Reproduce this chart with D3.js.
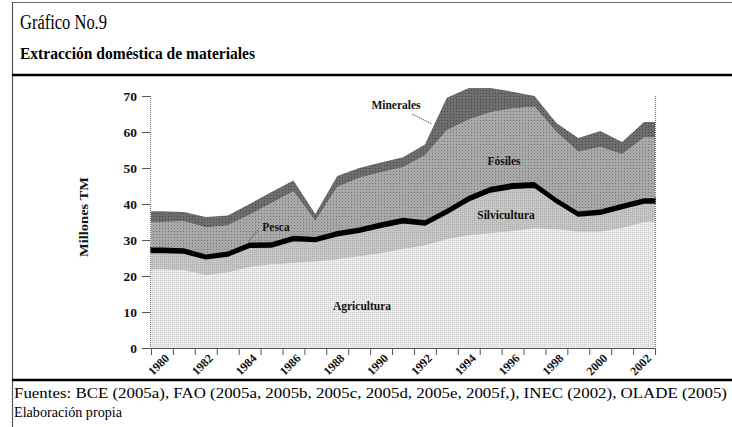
<!DOCTYPE html>
<meta charset="utf-8">
<style>
body { margin: 0; background: #fff; }
svg { display: block; }
text { font-family: "Liberation Serif", "DejaVu Serif", serif; }
.lbl { font-weight: bold; font-size: 11.5px; fill: #111; }
.tick-lbl { font-weight: bold; font-size: 12px; fill: #111; }
</style>
<svg width="732" height="427"></svg>
<script src="https://cdnjs.cloudflare.com/ajax/libs/d3/7.8.5/d3.min.js"></script>
<script>
// data (millones TM)
var years = d3.range(1980, 2003);
var agricultura  = [21.8,21.6,20.2,21.0,22.5,23.2,23.6,24.0,24.6,25.5,26.3,27.5,28.5,30.2,31.3,31.9,32.5,33.2,33.0,32.3,32.3,33.3,34.9];
var silvicultura = [4.8,4.8,4.6,4.6,5.5,4.9,6.3,5.6,6.6,6.7,7.3,7.3,5.7,7.2,9.6,11.5,11.9,11.5,7.4,4.4,4.9,5.5,5.4];
var pesca        = [1.3,1.3,1.2,1.2,1.3,1.3,1.3,1.2,1.3,1.3,1.3,1.4,1.3,1.3,1.4,1.4,1.4,1.4,1.3,1.2,1.3,1.3,1.3];
var fosiles      = [7.1,7.5,7.5,7.2,7.7,10.9,12.3,4.5,12.2,13.7,13.9,14.0,18.0,21.8,21.2,20.7,20.7,20.9,18.3,16.6,17.3,13.7,16.9];
var minerales    = [3.0,2.6,2.9,2.8,3.0,3.0,3.0,1.9,3.1,2.8,2.7,2.8,3.0,9.0,8.7,6.7,4.7,3.0,2.5,3.8,4.5,3.4,4.3];
var yTicks = [0,10,20,30,40,50,60,70];

var keys = ["agricultura","silvicultura","pesca","fosiles","minerales"];
var rows = years.map(function(y, i) {
  return {year: y, agricultura: agricultura[i], silvicultura: silvicultura[i],
          pesca: pesca[i], fosiles: fosiles[i], minerales: minerales[i]};
});

var svg = d3.select("svg");

// frame
svg.append("line").attr("x1",12).attr("x2",732).attr("y1",2.5).attr("y2",2.5).attr("stroke","#666").attr("stroke-width",1);
svg.append("line").attr("x1",12.5).attr("x2",12.5).attr("y1",2).attr("y2",427).attr("stroke","#555").attr("stroke-width",1.2);
svg.append("line").attr("x1",12).attr("x2",732).attr("y1",75).attr("y2",75).attr("stroke","#000").attr("stroke-width",2.5);
svg.append("line").attr("x1",12).attr("x2",732).attr("y1",380).attr("y2",380).attr("stroke","#000").attr("stroke-width",2.5);

svg.append("text").attr("x",20).attr("y",29).attr("font-size",20)
  .attr("textLength",87).attr("lengthAdjust","spacingAndGlyphs").text("Gráfico No.9");
svg.append("text").attr("x",20).attr("y",59).attr("font-size",17).attr("font-weight","bold")
  .attr("textLength",235).attr("lengthAdjust","spacingAndGlyphs").text("Extracción doméstica de materiales");
svg.append("text").attr("x",14).attr("y",398).attr("font-size",14)
  .attr("textLength",713).attr("lengthAdjust","spacingAndGlyphs")
  .text("Fuentes: BCE (2005a), FAO (2005a, 2005b, 2005c, 2005d, 2005e, 2005f,), INEC (2002), OLADE (2005)");
svg.append("text").attr("x",14).attr("y",417).attr("font-size",14)
  .attr("textLength",108).attr("lengthAdjust","spacingAndGlyphs").text("Elaboración propia");

// patterns
var defs = svg.append("defs");
function pat(id, size, base, dot) {
  var p = defs.append("pattern").attr("id", id).attr("width", size).attr("height", size)
    .attr("patternUnits", "userSpaceOnUse");
  p.append("rect").attr("width", size).attr("height", size).attr("fill", base);
  p.append("rect").attr("width", 1).attr("height", 1).attr("fill", dot);
}
pat("p-agr", 2, "#ececec", "#cdcdcd");
pat("p-sil", 2, "#c6c6c6", "#afafaf");
pat("p-fos", 3, "#a8a8a8", "#787878");
pat("p-min", 3, "#6e6e6e", "#484848");
var fills = {agricultura: "url(#p-agr)", silvicultura: "url(#p-sil)", pesca: "#000",
             fosiles: "url(#p-fos)", minerales: "url(#p-min)"};

// scales
var x = d3.scaleBand().domain(years).range([151, 655]).paddingInner(0).paddingOuter(0);
var y = d3.scaleLinear().domain([0, 70]).range([348, 96]);
var bw = x.bandwidth();
function cx(yr) { return x(yr) + bw / 2; }

var series = d3.stack().keys(keys)(rows);

// extend first/last values to the plot edges (area spans full width)
var area = d3.area()
  .x(function(d) { return d.px; })
  .y0(function(d) { return y(d[0]); })
  .y1(function(d) { return y(d[1]); });

series.forEach(function(s) {
  var pts = s.map(function(d) { var o = [d[0], d[1]]; o.px = cx(d.data.year); return o; });
  var first = [s[0][0], s[0][1]]; first.px = x.range()[0];
  var last = [s[s.length-1][0], s[s.length-1][1]]; last.px = x.range()[1];
  pts = [first].concat(pts, [last]);
  svg.append("path").attr("d", area(pts)).attr("fill", fills[s.key])
    .attr("stroke", s.key === "pesca" ? "#000" : "none")
    .attr("stroke-width", s.key === "pesca" ? 1.8 : 0)
    .attr("stroke-linejoin", "round");
});

// y axis
var gy = svg.append("g");
gy.append("line").attr("x1",150.5).attr("x2",150.5).attr("y1",y(70)).attr("y2",y(0))
  .attr("stroke","#777").attr("stroke-width",1.2).attr("stroke-dasharray","1,1");
yTicks.forEach(function(t) {
  gy.append("line").attr("x1",142).attr("x2",150).attr("y1",y(t)+0.5).attr("y2",y(t)+0.5).attr("stroke","#555");
  gy.append("text").attr("class","tick-lbl").attr("x",137).attr("y",y(t)+4.5)
    .attr("text-anchor","end").style("font-size","13.5px").text(t);
});
svg.append("text").attr("class","lbl").attr("transform","translate(88,217) rotate(-90)")
  .attr("text-anchor","middle").style("font-size","13.5px")
  .attr("textLength",80).attr("lengthAdjust","spacingAndGlyphs").text("Millones TM");

// right border
svg.append("line").attr("x1",655.5).attr("x2",655.5).attr("y1",y(70)).attr("y2",y(0)+7)
  .attr("stroke","#777").attr("stroke-width",1.2).attr("stroke-dasharray","1,1");

// x axis
var gx = svg.append("g");
gx.append("line").attr("x1",148).attr("x2",656).attr("y1",348.5).attr("y2",348.5)
  .attr("stroke","#555").attr("stroke-width",1.2);
years.concat([years[years.length-1] + 1]).forEach(function(yr, i) {
  var bx = i < years.length ? x(yr) : x.range()[1];
  gx.append("line").attr("x1",bx+0.5).attr("x2",bx+0.5).attr("y1",348).attr("y2",355).attr("stroke","#555");
});
years.filter(function(yr) { return yr % 2 === 0; }).forEach(function(yr) {
  gx.append("text").attr("class","tick-lbl")
    .attr("transform","translate(" + (cx(yr) + 2) + ",353) rotate(-45)")
    .attr("text-anchor","end").attr("dy","0.7em").text(yr);
});

// series labels
var labels = [
  {t: "Minerales", x: 396, y: 109},
  {t: "Fósiles", x: 504, y: 165},
  {t: "Silvicultura", x: 506, y: 219},
  {t: "Pesca", x: 276, y: 231},
  {t: "Agricultura", x: 362, y: 310}
];
labels.forEach(function(l) {
  svg.append("text").attr("class","lbl").attr("x",l.x).attr("y",l.y)
    .attr("text-anchor","middle").text(l.t);
});
// leader lines
svg.append("line").attr("x1",412).attr("y1",114).attr("x2",432).attr("y2",124)
  .attr("stroke","#444").attr("stroke-dasharray","1.5,1");
svg.append("line").attr("x1",258).attr("y1",230).attr("x2",248).attr("y2",242)
  .attr("stroke","#444").attr("stroke-dasharray","1.5,1");
</script>
